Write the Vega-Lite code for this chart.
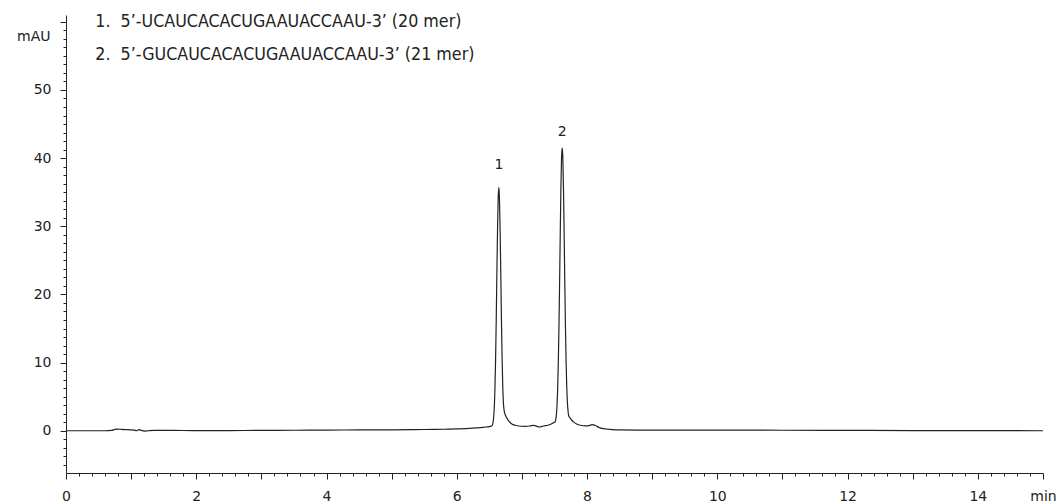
{
  "$schema": "https://vega.github.io/schema/vega-lite/v6.json",
  "width": 977,
  "height": 458,
  "autosize": {"type": "none"},
  "padding": {"left": 66, "top": 15, "right": 18, "bottom": 30},
  "background": "white",
  "config": {"view": {"stroke": null}},
  "datasets": {
    "trace": [
      {"time": 0.0, "mAU": 0.0}, {"time": 0.3, "mAU": 0.0}, {"time": 0.6, "mAU": 0.0}, {"time": 0.7, "mAU": 0.05},
      {"time": 0.75, "mAU": 0.2}, {"time": 0.8, "mAU": 0.25}, {"time": 0.85, "mAU": 0.2}, {"time": 0.95, "mAU": 0.15},
      {"time": 1.05, "mAU": 0.1}, {"time": 1.08, "mAU": 0.0}, {"time": 1.12, "mAU": 0.15}, {"time": 1.16, "mAU": 0.05},
      {"time": 1.2, "mAU": -0.05}, {"time": 1.26, "mAU": 0.0}, {"time": 1.35, "mAU": 0.05}, {"time": 1.6, "mAU": 0.05},
      {"time": 2.0, "mAU": 0.02}, {"time": 2.5, "mAU": 0.03}, {"time": 3.0, "mAU": 0.05}, {"time": 3.5, "mAU": 0.07},
      {"time": 4.0, "mAU": 0.1}, {"time": 4.5, "mAU": 0.12}, {"time": 5.0, "mAU": 0.13}, {"time": 5.5, "mAU": 0.18},
      {"time": 5.8, "mAU": 0.22}, {"time": 6.0, "mAU": 0.27}, {"time": 6.2, "mAU": 0.35}, {"time": 6.3, "mAU": 0.42},
      {"time": 6.4, "mAU": 0.5}, {"time": 6.45, "mAU": 0.55}, {"time": 6.5, "mAU": 0.6}, {"time": 6.53, "mAU": 0.7},
      {"time": 6.545, "mAU": 0.85}, {"time": 6.555, "mAU": 1.1}, {"time": 6.565, "mAU": 1.9}, {"time": 6.575, "mAU": 3.3},
      {"time": 6.585, "mAU": 6.0}, {"time": 6.595, "mAU": 10.2}, {"time": 6.605, "mAU": 16.0}, {"time": 6.615, "mAU": 22.8},
      {"time": 6.625, "mAU": 29.3}, {"time": 6.635, "mAU": 34.0}, {"time": 6.645, "mAU": 35.7}, {"time": 6.655, "mAU": 34.1},
      {"time": 6.665, "mAU": 29.5}, {"time": 6.675, "mAU": 23.2}, {"time": 6.685, "mAU": 16.6}, {"time": 6.695, "mAU": 10.9},
      {"time": 6.705, "mAU": 6.8}, {"time": 6.715, "mAU": 4.2}, {"time": 6.725, "mAU": 3.1}, {"time": 6.735, "mAU": 2.6},
      {"time": 6.745, "mAU": 2.3}, {"time": 6.765, "mAU": 1.9}, {"time": 6.795, "mAU": 1.45}, {"time": 6.845, "mAU": 1.0},
      {"time": 6.9, "mAU": 0.8}, {"time": 6.95, "mAU": 0.7}, {"time": 7.05, "mAU": 0.65}, {"time": 7.12, "mAU": 0.7},
      {"time": 7.18, "mAU": 0.8}, {"time": 7.23, "mAU": 0.65}, {"time": 7.27, "mAU": 0.55}, {"time": 7.33, "mAU": 0.7},
      {"time": 7.4, "mAU": 0.8}, {"time": 7.45, "mAU": 1.0}, {"time": 7.48, "mAU": 1.15}, {"time": 7.508, "mAU": 1.3},
      {"time": 7.518, "mAU": 1.6}, {"time": 7.528, "mAU": 2.3}, {"time": 7.538, "mAU": 3.6}, {"time": 7.548, "mAU": 6.0},
      {"time": 7.558, "mAU": 9.8}, {"time": 7.568, "mAU": 15.0}, {"time": 7.578, "mAU": 21.6}, {"time": 7.588, "mAU": 28.7},
      {"time": 7.598, "mAU": 35.3}, {"time": 7.608, "mAU": 40.0}, {"time": 7.618, "mAU": 41.5}, {"time": 7.628, "mAU": 40.1},
      {"time": 7.638, "mAU": 35.5}, {"time": 7.648, "mAU": 28.9}, {"time": 7.658, "mAU": 21.8}, {"time": 7.668, "mAU": 15.3},
      {"time": 7.678, "mAU": 10.2}, {"time": 7.688, "mAU": 6.5}, {"time": 7.698, "mAU": 4.2}, {"time": 7.708, "mAU": 2.9},
      {"time": 7.718, "mAU": 2.2}, {"time": 7.738, "mAU": 1.9}, {"time": 7.768, "mAU": 1.5}, {"time": 7.79, "mAU": 1.3},
      {"time": 7.84, "mAU": 1.0}, {"time": 7.9, "mAU": 0.8}, {"time": 7.97, "mAU": 0.7}, {"time": 8.03, "mAU": 0.75},
      {"time": 8.08, "mAU": 0.9}, {"time": 8.12, "mAU": 0.8}, {"time": 8.18, "mAU": 0.5}, {"time": 8.25, "mAU": 0.3},
      {"time": 8.35, "mAU": 0.2}, {"time": 8.5, "mAU": 0.12}, {"time": 9.0, "mAU": 0.1}, {"time": 10.0, "mAU": 0.1},
      {"time": 11.0, "mAU": 0.07}, {"time": 12.0, "mAU": 0.05}, {"time": 13.0, "mAU": 0.03}, {"time": 14.0, "mAU": 0.02},
      {"time": 15.0, "mAU": 0.0}
    ],
    "peaks": [
      {"time": 6.646, "mAU": 39.0, "label": "1"},
      {"time": 7.618, "mAU": 43.85, "label": "2"}
    ],
    "notes": [
      {"time": 0.45, "mAU": 59.2, "label": "1.\u00a0\u00a05’-UCAUCACACUGAAUACCAAU-3’ (20 mer)"},
      {"time": 0.45, "mAU": 54.4, "label": "2.\u00a0\u00a05’-GUCAUCACACUGAAUACCAAU-3’ (21 mer)"}
    ]
  },
  "encoding": {
    "x": {
      "field": "time", "type": "quantitative",
      "scale": {"domain": [0, 15], "nice": false, "zero": false},
      "axis": {
        "title": null, "grid": false,
        "values": [0,0.2,0.4,0.6,0.8,1,1.2,1.4,1.6,1.8,2,2.2,2.4,2.6,2.8,3,3.2,3.4,3.6,3.8,4,4.2,4.4,4.6,4.8,5,5.2,5.4,5.6,5.8,6,6.2,6.4,6.6,6.8,7,7.2,7.4,7.6,7.8,8,8.2,8.4,8.6,8.8,9,9.2,9.4,9.6,9.8,10,10.2,10.4,10.6,10.8,11,11.2,11.4,11.6,11.8,12,12.2,12.4,12.6,12.8,13,13.2,13.4,13.6,13.8,14,14.2,14.4,14.6,14.8,15],
        "labelExpr": "datum.value == 15 ? 'min' : ((abs(datum.value - round(datum.value)) < 0.001 && round(datum.value) % 2 == 0) ? ('' + round(datum.value)) : '')",
        "tickSize": {"condition": {"test": "abs(datum.value - round(datum.value)) < 0.001", "value": 6}, "value": 3},
        "labelOverlap": false, "labelFlush": false,
        "domainColor": "#222", "tickColor": "#222", "domainWidth": 1, "tickWidth": 1,
        "labelFont": "DejaVu Sans", "labelFontSize": 14, "labelColor": "#222", "labelPadding": 10
      }
    },
    "y": {
      "field": "mAU", "type": "quantitative",
      "scale": {"domain": [-6.2, 61], "nice": false, "zero": false},
      "axis": {
        "title": "mAU", "titleAngle": 0, "titleAlign": "right", "titleBaseline": "alphabetic",
        "titleX": -16, "titleY": 25, "titleFont": "DejaVu Sans", "titleFontSize": 14, "titleFontWeight": "normal", "titleColor": "#222",
        "grid": false,
        "values": [-5,-3.75,-2.5,-1.25,0,1.25,2.5,3.75,5,6.25,7.5,8.75,10,11.25,12.5,13.75,15,16.25,17.5,18.75,20,21.25,22.5,23.75,25,26.25,27.5,28.75,30,31.25,32.5,33.75,35,36.25,37.5,38.75,40,41.25,42.5,43.75,45,46.25,47.5,48.75,50,51.25,52.5,53.75,55,56.25,57.5,58.75,60],
        "labelExpr": "(abs(datum.value % 10) < 0.001 && datum.value <= 50) ? ('' + round(datum.value)) : ''",
        "tickSize": {"condition": {"test": "abs(datum.value % 10) < 0.001", "value": 6}, "value": 3},
        "labelOverlap": false, "labelFlush": false,
        "domainColor": "#222", "tickColor": "#222", "domainWidth": 1, "tickWidth": 1,
        "labelFont": "DejaVu Sans", "labelFontSize": 14, "labelColor": "#222", "labelPadding": 9
      }
    }
  },
  "layer": [
    {
      "data": {"name": "trace"},
      "mark": {"type": "line", "color": "#222", "strokeWidth": 1.2, "interpolate": "monotone"}
    },
    {
      "data": {"name": "peaks"},
      "mark": {"type": "text", "font": "DejaVu Sans", "fontSize": 14, "color": "#222", "align": "center", "baseline": "middle"},
      "encoding": {"text": {"field": "label"}}
    },
    {
      "data": {"name": "notes"},
      "mark": {"type": "text", "font": "DejaVu Sans Condensed, sans-serif", "fontSize": 17.7, "color": "#222", "align": "left", "baseline": "alphabetic"},
      "encoding": {"text": {"field": "label"}}
    }
  ]
}
